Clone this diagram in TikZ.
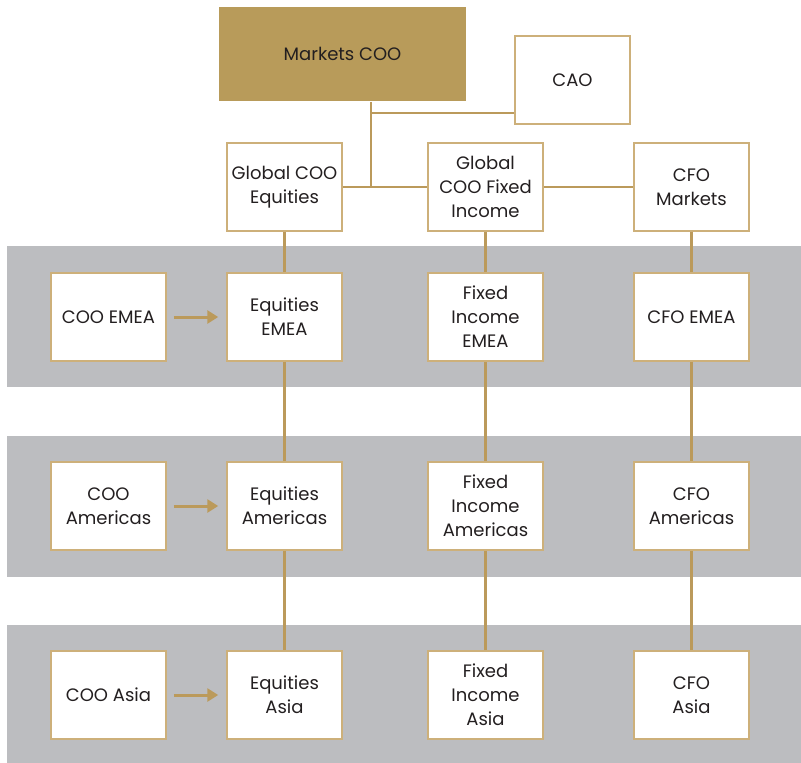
\documentclass[tikz,border=0pt]{standalone}
\usepackage{fontspec}
\setmainfont{Poppins}
\usetikzlibrary{arrows.meta}
\definecolor{gold}{HTML}{B89B5A}
\definecolor{goldline}{HTML}{BB9A5B}
\definecolor{goldedge}{HTML}{CDB07A}
\definecolor{band}{HTML}{BCBDC0}
\definecolor{ink}{HTML}{231F20}
\begin{document}
\begin{tikzpicture}[x=1pt,y=-1pt,
  box/.style={draw=goldedge, line width=1.5pt, fill=white, minimum width=115pt, minimum height=88pt,
    align=center, text=ink, font=\fontsize{18}{24}\selectfont, inner sep=0pt},
  conn/.style={draw=goldline, line width=2.5pt}]
\useasboundingbox (0,0) rectangle (801,763);
\fill[band] (7,246) rectangle (801,387);
\fill[band] (7,436) rectangle (801,577);
\fill[band] (7,625) rectangle (801,763);

\node[box, draw=none, fill=gold, minimum width=247pt, minimum height=94pt] (mc) at (342.5,54) {Markets COO};
\node[box] (cao) at (572.5,80) {CAO};
\node[box] (gce) at (284.5,187) {Global COO\\Equities};
\node[box] (gcf) at (485.5,187) {Global\\COO Fixed\\Income};
\node[box] (cfom) at (691.5,187) {CFO\\Markets};

\node[box] (ce) at (108.5,317) {COO EMEA};
\node[box] (ee) at (284.5,317) {Equities\\EMEA};
\node[box] (fe) at (485.5,317) {Fixed\\Income\\EMEA};
\node[box] (cfe) at (691.5,317) {CFO EMEA};

\node[box] (ca) at (108.5,506) {COO\\Americas};
\node[box] (ea) at (284.5,506) {Equities\\Americas};
\node[box] (fa) at (485.5,506) {Fixed\\Income\\Americas};
\node[box] (cfa) at (691.5,506) {CFO\\Americas};

\node[box] (cs) at (108.5,695) {COO Asia};
\node[box] (es) at (284.5,695) {Equities\\Asia};
\node[box] (fs) at (485.5,695) {Fixed\\Income\\Asia};
\node[box] (cfs) at (691.5,695) {CFO\\Asia};

\coordinate (j) at (371,187);
\coordinate (k) at (371,113);
\draw[conn] (mc.south -| j) -- (j);
\draw[conn] (k) -- (k -| cao.west);
\draw[conn] (gce.east) -- (gcf.west);
\draw[conn] (gcf.east) -- (cfom.west);

\draw[conn] (gce.south) -- (ee.north);
\draw[conn] (ee.south) -- (ea.north);
\draw[conn] (ea.south) -- (es.north);
\draw[conn] (gcf.south) -- (fe.north);
\draw[conn] (fe.south) -- (fa.north);
\draw[conn] (fa.south) -- (fs.north);
\draw[conn] (cfom.south) -- (cfe.north);
\draw[conn] (cfe.south) -- (cfa.north);
\draw[conn] (cfa.south) -- (cfs.north);

\foreach \a/\b in {ce/ee, ca/ea, cs/es}
  \draw[conn, line width=3pt, -{Triangle[length=11pt,width=13pt]}] ([xshift=7pt]\a.east) -- ([xshift=-8pt]\b.west);
\end{tikzpicture}
\end{document}
